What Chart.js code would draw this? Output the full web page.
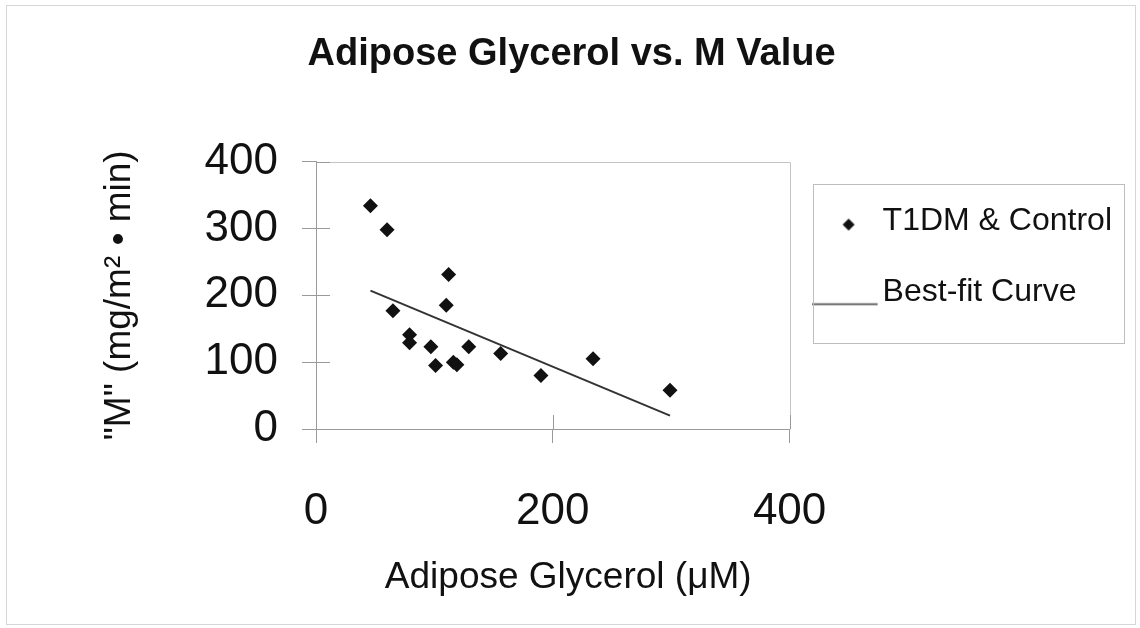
<!DOCTYPE html>
<html>
<head>
<meta charset="utf-8">
<title>Adipose Glycerol vs. M Value</title>
<script src="https://cdn.jsdelivr.net/npm/chart.js@4.4.1/dist/chart.umd.min.js"></script>
<style>
  html, body { margin: 0; padding: 0; background: #fff; }
  #wrap { position: relative; width: 1140px; height: 628px; }
  #wrap canvas { position: absolute; left: 0; top: 0; }
  #frame { position: absolute; left: 6px; top: 5px; width: 1128px; height: 618px; border: 1px solid #d6d6d6; pointer-events: none; }
</style>
</head>
<body>
<div id="wrap">
  <canvas id="chart" width="1140" height="628"></canvas>
  <div id="frame"></div>
</div>
<script>
// data
const glycerol = [46, 60, 112, 110, 65, 79, 79, 97, 101, 116, 119, 129, 156, 190, 234, 299];
const mValue   = [334, 298, 231, 185, 177, 141, 129, 123, 95, 100, 96, 123, 113, 80, 105, 58];
const fitX = [46, 299];
const fitY = [207, 20];
const xTicks = [0, 200, 400];
const yTicks = [0, 100, 200, 300, 400];

const FONT = "'Liberation Sans', Arial, Helvetica, sans-serif";
const INK = '#111';
const AXIS = '#9a9a9a';

// legend icons: small diamond, long thin line sitting at the text baseline
function diamondIcon() {
  const c = document.createElement('canvas');
  c.width = 20; c.height = 20;
  const g = c.getContext('2d');
  g.fillStyle = INK;
  g.beginPath();
  g.moveTo(11, 7); g.lineTo(17, 13); g.lineTo(11, 19); g.lineTo(5, 13);
  g.closePath();
  g.fill();
  return c;
}
function lineIcon() {
  const c = document.createElement('canvas');
  c.width = 72; c.height = 26;
  const g = c.getContext('2d');
  g.strokeStyle = '#444';
  g.lineWidth = 1.5;
  g.beginPath();
  g.moveTo(0, 24.5); g.lineTo(66, 24.5);
  g.stroke();
  return c;
}
const icons = [diamondIcon(), lineIcon()];

// top/right frame of the plot and the inner half of each tick
const plotFrame = {
  id: 'plotFrame',
  beforeDatasetsDraw(chart) {
    const { ctx, chartArea: a, scales } = chart;
    ctx.save();
    ctx.lineWidth = 1;
    ctx.strokeStyle = '#c4c4c4';
    ctx.beginPath();
    ctx.moveTo(Math.round(a.left) + 0.5, Math.round(a.top) + 0.5);
    ctx.lineTo(Math.round(a.right) + 0.5, Math.round(a.top) + 0.5);
    ctx.lineTo(Math.round(a.right) + 0.5, Math.round(a.bottom) + 0.5);
    ctx.stroke();
    ctx.strokeStyle = AXIS;
    ctx.beginPath();
    scales.y.ticks.forEach((t, i) => {
      const py = Math.round(scales.y.getPixelForTick(i)) + 0.5;
      ctx.moveTo(a.left, py); ctx.lineTo(a.left + 14, py);
    });
    scales.x.ticks.forEach((t, i) => {
      const px = Math.round(scales.x.getPixelForTick(i)) + 0.5;
      ctx.moveTo(px, a.bottom); ctx.lineTo(px, a.bottom - 14);
    });
    ctx.stroke();
    ctx.restore();
  }
};

const legendFrame = {
  id: 'legendFrame',
  afterDraw(chart) {
    const lg = chart.legend;
    const ctx = chart.ctx;
    ctx.save();
    ctx.strokeStyle = '#bdbdbd';
    ctx.lineWidth = 1;
    ctx.strokeRect(Math.round(lg.left + 23) + 0.5, Math.round(lg.top + 22) + 0.5, 311, 159);
    ctx.restore();
  }
};

const points = glycerol.map((x, i) => ({ x, y: mValue[i] }));
const fitLine = fitX.map((x, i) => ({ x, y: fitY[i] }));

new Chart(document.getElementById('chart'), {
  type: 'scatter',
  data: {
    datasets: [
      {
        label: 'T1DM & Control',
        data: points,
        pointStyle: 'rectRot',
        pointRadius: 7.5,
        backgroundColor: INK,
        borderColor: INK,
        borderWidth: 0
      },
      {
        label: 'Best-fit Curve',
        data: fitLine,
        showLine: true,
        pointRadius: 0,
        borderColor: '#333',
        borderWidth: 2
      }
    ]
  },
  options: {
    responsive: false,
    animation: false,
    events: [],
    layout: { padding: { left: 0, right: 18, top: 0, bottom: 0 } },
    scales: {
      x: {
        type: 'linear',
        min: 0,
        max: 400,
        afterBuildTicks: s => { s.ticks = xTicks.map(v => ({ value: v })); },
        afterFit: s => { s.height = 199; },
        border: { display: true, color: AXIS, width: 1 },
        grid: { drawOnChartArea: false, drawTicks: true, tickLength: 14, color: AXIS },
        ticks: { font: { size: 44, family: FONT }, color: INK, padding: 42, maxRotation: 0 },
        title: {
          display: true,
          text: '   Adipose Glycerol (μM)',
          font: { size: 37, family: FONT },
          color: INK,
          padding: { top: 0, bottom: 28 }
        }
      },
      y: {
        type: 'linear',
        min: 0,
        max: 400,
        afterBuildTicks: s => { s.ticks = yTicks.map(v => ({ value: v })); },
        afterFit: s => { s.width = 316; },
        border: { display: true, color: AXIS, width: 1 },
        grid: { drawOnChartArea: false, drawTicks: true, tickLength: 14, color: AXIS },
        ticks: { font: { size: 44, family: FONT }, color: INK, padding: 24 },
        title: {
          display: true,
          text: '"M" (mg/m² • min)',
          font: { size: 37, family: FONT },
          color: INK,
          padding: { top: 98, bottom: 0 }
        }
      }
    },
    plugins: {
      title: {
        display: true,
        text: '  Adipose Glycerol vs. M Value',
        font: { size: 38, weight: 'bold', family: FONT },
        color: INK,
        padding: { top: 32, bottom: 84 }
      },
      legend: {
        position: 'right',
        align: 'start',
        fullSize: false,
        maxWidth: 420,
        title: { display: true, text: '', padding: 0, font: { size: 5, lineHeight: 1 } },
        labels: {
          usePointStyle: true,
          pointStyleWidth: 38,
          padding: 39,
          color: INK,
          font: { size: 32, family: FONT },
          generateLabels(chart) {
            const items = Chart.defaults.plugins.legend.labels.generateLabels(chart);
            items.forEach((it, i) => { it.pointStyle = icons[i]; });
            return items;
          }
        }
      },
      tooltip: { enabled: false }
    }
  },
  plugins: [plotFrame, legendFrame]
});
</script>
</body>
</html>
